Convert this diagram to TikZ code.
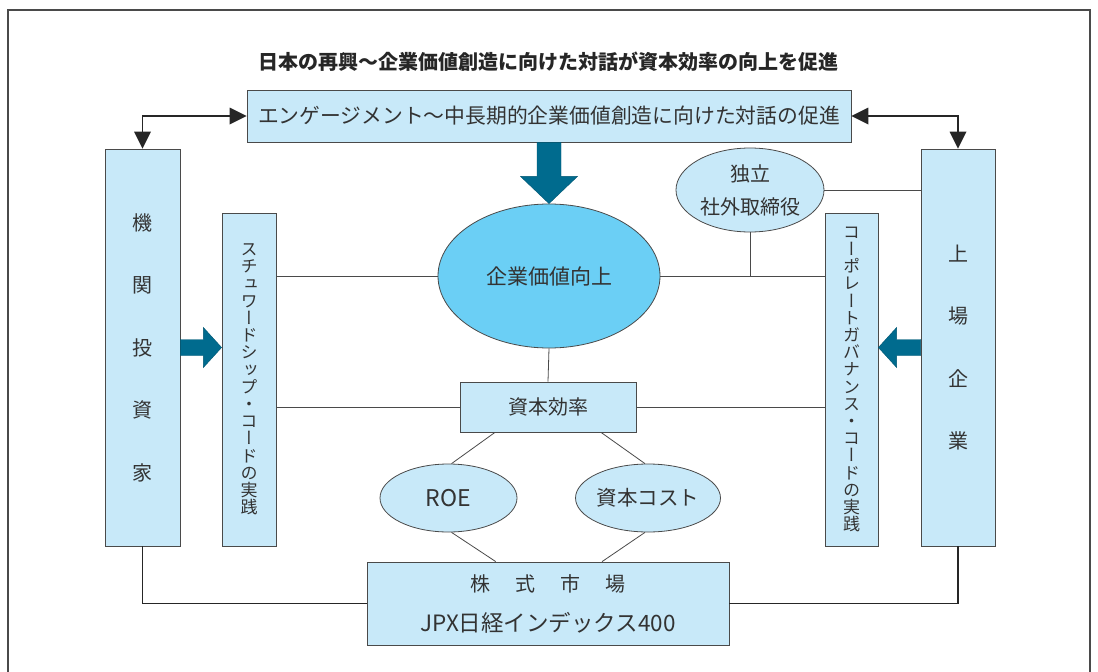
\documentclass[tikz,border=0pt]{standalone}
\usepackage{fontspec}
\setmainfont{Noto Sans CJK JP}
\newfontfamily\vjp[RawFeature=+vert]{Noto Sans CJK JP}
\usetikzlibrary{arrows.meta,shapes.geometric,calc}
\definecolor{boxfill}{HTML}{C8E9F9}
\definecolor{valfill}{HTML}{6BCFF5}
\definecolor{arrowblue}{HTML}{006B8E}
\definecolor{txt}{HTML}{333333}
\definecolor{edge}{HTML}{4A4A4A}
\tikzset{
  box/.style={draw=edge, line width=0.8pt, fill=boxfill, text=txt, inner sep=0pt, align=center},
  oval/.style={ellipse, draw=edge, line width=0.8pt, fill=boxfill, text=txt, inner sep=0pt, align=center},
  link/.style={draw=edge, line width=0.8pt},
  boldlink/.style={draw=black!85, line width=1.8pt},
  headfill/.style={fill=black!85},
  blockarrow/.style={fill=arrowblue, draw=arrowblue!80!black, line width=0.4pt},
  vtext/.style={font=\vjp\fontsize{17}{17.2}\selectfont},
  wide/.style={font=\fontsize{20}{62.5}\selectfont}
}
\begin{document}
\begin{tikzpicture}[x=1pt,y=-1pt]
\useasboundingbox (0,0) rectangle (1098,672);
% outer frame
\draw[edge, line width=1.4pt] (8,672) -- (8,10) -- (1090,10) -- (1090,672);

% title
\node[text=black!85, font=\bfseries\fontsize{20}{24}\selectfont] (title) at (548,62) {日本の再興～企業価値創造に向けた対話が資本効率の向上を促進};

% top box
\node[box, minimum width=604, minimum height=52, font=\fontsize{20.8}{24}\selectfont] (eng) at (549,116) {エンゲージメント～中長期的企業価値創造に向けた対話の促進};

% side boxes
\node[box, minimum width=75, minimum height=397, wide] (inv) at (142.5,347.5) {機\\関\\投\\資\\家};
\node[box, minimum width=74, minimum height=397, wide] (corp) at (958,347.5) {上\\場\\企\\業};

\node[box, minimum width=54, minimum height=333, vtext] (sw) at (249,379.5) {ス\\チ\\ュ\\ワ\\ー\\ド\\シ\\ッ\\プ\\・\\コ\\ー\\ド\\の\\実\\践};
\node[box, minimum width=53, minimum height=333, vtext] (cg) at (851.5,379.5) {コ\\ー\\ポ\\レ\\ー\\ト\\ガ\\バ\\ナ\\ン\\ス\\・\\コ\\ー\\ド\\の\\実\\践};

% centre
\node[oval, fill=valfill, minimum width=222, minimum height=144, font=\fontsize{21}{24}\selectfont] (val) at (549,276) {企業価値向上};
\node[oval, minimum width=148, minimum height=84, font=\fontsize{20}{33}\selectfont] (ind) at (750,190) {独立\\社外取締役};
\node[box, minimum width=176, minimum height=50, font=\fontsize{20}{24}\selectfont] (eff) at (548,407) {資本効率};
\node[oval, minimum width=137, minimum height=68, font=\fontsize{23}{24}\selectfont] (roe) at (448.5,498) {ROE};
\node[oval, minimum width=136, minimum height=68, font=\fontsize{20.5}{24}\selectfont] (cost) at (648,498) {資本コスト};
\node[box, minimum width=362, minimum height=83, font=\fontsize{20}{40}\selectfont] (mkt) at (548,603.5) {株\hspace{25pt}式\hspace{25pt}市\hspace{25pt}場\\{\fontsize{22.5}{40}\selectfont JPX日経インデックス400}};

% thin links
\draw[link] (val.west) -- (val.west -| sw.east);
\draw[link] (val.east) -- (val.east -| cg.west);
\draw[link] (eff.west) -- (eff.west -| sw.east);
\draw[link] (eff.east) -- (eff.east -| cg.west);
\draw[link] (val.south) -- (eff.north);
\draw[link] (ind.east) -- (ind.east -| corp.west);
\draw[link] (ind.south) -- (ind.south |- val.east);
\draw[link] ($(eff.south west)!0.2!(eff.south east)$) -- (roe.85);
\draw[link] ($(eff.south west)!0.8!(eff.south east)$) -- (cost.95);
\draw[link] (roe.-85) -- ($(mkt.north west)!0.356!(mkt.north east)$);
\draw[link] (cost.-95) -- ($(mkt.north west)!0.649!(mkt.north east)$);

% black connectors with explicit heads
\draw[boldlink, shorten <=8pt, shorten >=8pt] (eng.west) -| (inv.north);
\draw[boldlink, shorten <=8pt, shorten >=8pt] (eng.east) -| (corp.north);
\fill[headfill] (eng.west) -- ($(eng.west)+(-17,-8.5)$) -- ($(eng.west)+(-17,8.5)$) -- cycle;
\fill[headfill] (inv.north) -- ($(inv.north)+(-8.5,-17)$) -- ($(inv.north)+(8.5,-17)$) -- cycle;
\fill[headfill] (eng.east) -- ($(eng.east)+(17,-8.5)$) -- ($(eng.east)+(17,8.5)$) -- cycle;
\fill[headfill] (corp.north) -- ($(corp.north)+(-8.5,-17)$) -- ($(corp.north)+(8.5,-17)$) -- cycle;
\draw[boldlink] (inv.south) |- (mkt.west);
\draw[boldlink] (corp.south) |- (mkt.east);

% block arrows
\path[blockarrow] ($(eng.south)+(-12,0)$) -- ($(eng.south)+(12,0)$) -- ($(eng.south)+(12,34)$) -- ($(eng.south)+(28.5,34)$) -- (val.north) -- ($(eng.south)+(-28.5,34)$) -- ($(eng.south)+(-12,34)$) -- cycle;
\coordinate (lt) at (inv.east -| sw.west);
\coordinate (rt) at (corp.west -| cg.east);
\path[blockarrow] ($(inv.east)+(0,-8)$) -- ($(inv.east)+(23,-8)$) -- ($(inv.east)+(23,-20)$) -- (lt) -- ($(inv.east)+(23,20)$) -- ($(inv.east)+(23,8)$) -- ($(inv.east)+(0,8)$) -- cycle;
\path[blockarrow] ($(corp.west)+(0,-8)$) -- ($(corp.west)+(-24,-8)$) -- ($(corp.west)+(-24,-20)$) -- (rt) -- ($(corp.west)+(-24,20)$) -- ($(corp.west)+(-24,8)$) -- ($(corp.west)+(0,8)$) -- cycle;
\end{tikzpicture}
\end{document}
